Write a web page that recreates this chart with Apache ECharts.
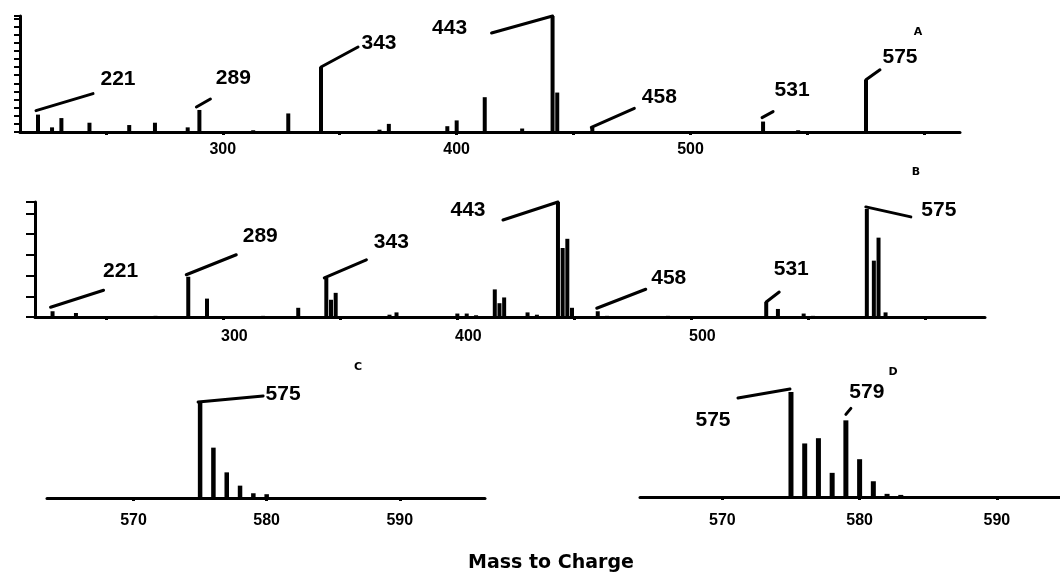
<!DOCTYPE html>
<html>
<head>
<meta charset="utf-8">
<title>Mass to Charge</title>
<script src="https://cdn.jsdelivr.net/npm/echarts@6/dist/echarts.min.js"></script>
<style>
  html, body { margin: 0; padding: 0; background: #fff; }
  #chart { width: 1060px; height: 574px; }
</style>
</head>
<body>
<div id="chart"></div>
<script>
// spectrum A
const massA = [221, 227, 231, 243, 260, 271, 285, 290, 313, 328, 342, 367, 371, 396, 400, 412, 428, 441, 443, 458, 531, 546, 575];
const intA = [15, 4, 12, 8, 6, 8, 4, 19, 1.5, 16, 56, 2, 7, 5, 10, 30, 3, 100, 34, 4, 9, 1.5, 45];
const noteMassA = [221, 290, 342, 441, 458, 531, 575];
const noteTextA = ['221', '289', '343', '443', '458', '531', '575'];

// spectrum B
const massB = [227, 237, 271, 285, 293, 317, 332, 344, 346, 348, 371, 374, 400, 404, 408, 416, 418, 420, 430, 434,
  443, 445, 447, 449, 460, 464, 490, 532, 537, 548, 552, 575, 578, 580, 583];
const intB = [5, 3.5, 1, 35, 16, 1, 8, 34, 15, 21, 2, 4, 3, 3, 1.5, 24, 12, 17, 4, 2,
  100, 60, 68, 8, 5, 1, 1, 13, 7, 3, 1, 94, 49, 69, 4];
const noteMassB = [227, 285, 344, 443, 460, 532, 575];
const noteTextB = ['221', '289', '343', '443', '458', '531', '575'];

// expanded molecular ion region C and D
const massC = [575, 576, 577, 578, 579, 580];
const intC = [100, 53, 27, 13, 5, 4];
const noteMassC = [575];
const noteTextC = ['575'];

const massD = [575, 576, 577, 578, 579, 580, 581, 582, 583];
const intD = [100, 51, 56, 23, 73, 36, 15, 3, 2];
const noteMassD = [575, 579];
const noteTextD = ['575', '579'];

const ticksWide = [250, 300, 350, 400, 450, 500, 550, 600];
const labelsWide = [300, 400, 500];
const ticksZoom = [570, 580, 590];
const labelsZoom = [570, 580, 590];

// leader line (start, end) and text offsets from each annotated peak top, px
const notePosA = [
  { line: [-2, -4, 55, -21], text: [80, -35] },
  { line: [-3, -3, 11, -11], text: [34, -32] },
  { line: [0, 0, 37, -20], text: [58, -24] },
  { line: [0, 0, -61, 17], text: [-103, 12] },
  { line: [-1, 0, 42, -19], text: [67, -30] },
  { line: [-1, -4, 10, -10], text: [29, -31] },
  { line: [0, 0, 14, -10], text: [34, -23] }
];
const notePosB = [
  { line: [-2, -4, 51, -21], text: [68, -40] },
  { line: [-2, -2, 48, -22], text: [72, -41] },
  { line: [-2, 0, 40, -18], text: [65, -36] },
  { line: [0, 0, -55, 18], text: [-90, 8] },
  { line: [-1, -3, 48, -22], text: [71, -33] },
  { line: [0, 0, 13, -10], text: [25, -33] },
  { line: [-1, -2, 44, 8], text: [72, 1] }
];
const notePosC = [
  { line: [-2, -1, 63, -7], text: [83, -9] }
];
const notePosD = [
  { line: [-1, -3, -53, 6], text: [-78, 28] },
  { line: [0, -6, 5, -12], text: [21, -28] }
];

const FONT = 'Liberation Sans';

function pairs(xs, ys) {
  return xs.map((m, i) => [m, ys[i]]);
}

function notes(noteMass, xs, ys) {
  return noteMass.map(m => [m, ys[xs.indexOf(m)]]);
}

function noteRenderer(pos, texts) {
  return function (params, api) {
    const p = api.coord([api.value(0), api.value(1)]);
    const L = pos[params.dataIndex];
    return {
      type: 'group',
      children: [
        {
          type: 'polyline',
          shape: { points: [[p[0] + L.line[0], p[1] + L.line[1]], [p[0] + L.line[2], p[1] + L.line[3]]] },
          style: { stroke: '#000', lineWidth: 3, fill: null, lineCap: 'round' }
        },
        {
          type: 'text',
          x: p[0] + L.text[0],
          y: p[1] + L.text[1],
          style: {
            text: texts[params.dataIndex],
            fill: '#000',
            font: 'bold 21px "' + FONT + '"',
            align: 'center',
            verticalAlign: 'middle'
          }
        }
      ]
    };
  };
}

function xAxis(gridIndex, min, max, ticks, labels, margin, pad) {
  return {
    type: 'value',
    gridIndex: gridIndex,
    min: min,
    max: max,
    splitLine: { show: false },
    axisLine: { show: true, onZero: false, lineStyle: { color: '#000', width: 3 } },
    axisTick: { show: true, length: 3, customValues: ticks, lineStyle: { color: '#000', width: 3 } },
    axisLabel: {
      show: true,
      customValues: labels,
      margin: margin,
      padding: [0, 0, 0, pad || 0],
      color: '#000',
      fontFamily: FONT,
      fontWeight: 'bold',
      fontSize: 16
    }
  };
}

function yAxis(gridIndex, showLine, interval, tickLen) {
  return {
    type: 'value',
    gridIndex: gridIndex,
    min: 0,
    max: 100,
    interval: interval,
    splitLine: { show: false },
    axisLine: { show: showLine, lineStyle: { color: '#000', width: 3 } },
    axisTick: { show: showLine, length: tickLen, lineStyle: { color: '#000', width: 2 } },
    axisLabel: { show: false }
  };
}

function bars(idx, data, width) {
  return {
    type: 'bar',
    xAxisIndex: idx,
    yAxisIndex: idx,
    data: data,
    barWidth: width,
    itemStyle: { color: '#000' },
    silent: true
  };
}

function noteSeries(idx, data, pos, texts) {
  return {
    type: 'custom',
    xAxisIndex: idx,
    yAxisIndex: idx,
    data: data,
    clip: false,
    silent: true,
    renderItem: noteRenderer(pos, texts)
  };
}

const chart = echarts.init(document.getElementById('chart'), null, { renderer: 'canvas' });

chart.setOption({
  backgroundColor: '#fff',
  animation: false,
  grid: [
    { left: 20, top: 16, width: 940, height: 116 },
    { left: 35, top: 202, width: 950, height: 115 },
    { left: 47, top: 403, width: 438, height: 95 },
    { left: 640, top: 392, width: 420, height: 105 }
  ],
  xAxis: [
    xAxis(0, 213.3, 615.2, ticksWide, labelsWide, 10, 0),
    xAxis(1, 219.5, 625.5, ticksWide, labelsWide, 12, 22),
    xAxis(2, 563.5, 596.4, ticksZoom, labelsZoom, 15, 0),
    xAxis(3, 564.0, 594.6, ticksZoom, labelsZoom, 16, 0)
  ],
  yAxis: [
    yAxis(0, true, 7, 6),
    yAxis(1, true, 18, 9),
    yAxis(2, false, 20, 0),
    yAxis(3, false, 20, 0)
  ],
  series: [
    bars(0, pairs(massA, intA), 4),
    bars(1, pairs(massB, intB), 4),
    bars(2, pairs(massC, intC), 4.5),
    bars(3, pairs(massD, intD), 5),
    noteSeries(0, notes(noteMassA, massA, intA), notePosA, noteTextA),
    noteSeries(1, notes(noteMassB, massB, intB), notePosB, noteTextB),
    noteSeries(2, notes(noteMassC, massC, intC), notePosC, noteTextC),
    noteSeries(3, notes(noteMassD, massD, intD), notePosD, noteTextD)
  ],
  graphic: [
    { type: 'text', x: 918, y: 32, style: { text: 'A', font: 'bold 11px "DejaVu Sans"', fill: '#000', align: 'center', verticalAlign: 'middle' } },
    { type: 'text', x: 916, y: 172, style: { text: 'B', font: 'bold 11px "DejaVu Sans"', fill: '#000', align: 'center', verticalAlign: 'middle' } },
    { type: 'text', x: 358, y: 367, style: { text: 'C', font: 'bold 11px "DejaVu Sans"', fill: '#000', align: 'center', verticalAlign: 'middle' } },
    { type: 'text', x: 893, y: 372, style: { text: 'D', font: 'bold 11px "DejaVu Sans"', fill: '#000', align: 'center', verticalAlign: 'middle' } },
    { type: 'text', x: 551, y: 563, style: { text: 'Mass to Charge', font: 'bold 19px "DejaVu Sans"', fill: '#000', align: 'center', verticalAlign: 'middle' } }
  ]
});
</script>
</body>
</html>
